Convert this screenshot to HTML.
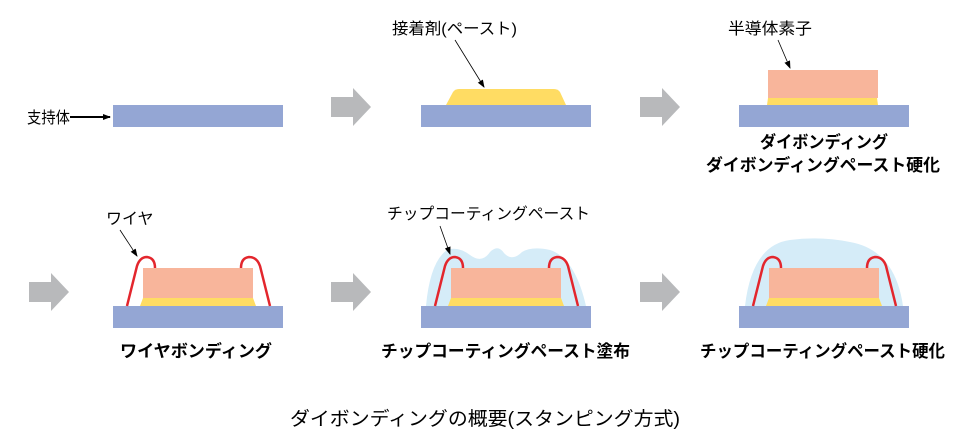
<!DOCTYPE html>
<html><head><meta charset="utf-8"><style>
body{margin:0;background:#fff;}
svg text{font-family:"Liberation Sans","Noto Sans CJK JP",sans-serif;}
</style></head><body>
<svg width="958" height="442" viewBox="0 0 958 442" xmlns="http://www.w3.org/2000/svg">
<defs>
<marker id="ah" markerWidth="8" markerHeight="8" refX="7" refY="4" orient="auto" markerUnits="userSpaceOnUse"><path d="M0,1 L8,4 L0,7 z" fill="#000"/></marker>
<g id="arr"><path d="M0,-10 H22 V-19 L40,0 L22,19 V10 H0 z" fill="#b8b9bb"/></g>
</defs>
<rect x="113" y="105" width="170" height="22" fill="#94a6d4"/>
<text x="27" y="123" font-size="16" textLength="43" lengthAdjust="spacingAndGlyphs">支持体</text>
<line x1="70" y1="117" x2="110" y2="117" stroke="#000" stroke-width="2" marker-end="url(#ah)"/>
<use href="#arr" x="331" y="107"/>
<rect x="421" y="105" width="170" height="22" fill="#94a6d4"/>
<path d="M446,105 L453,92 Q455,89 459,89 H554 Q558,89 560,92 L566,105 z" fill="#ffdc63"/>
<text x="392" y="34" font-size="16" textLength="125" lengthAdjust="spacingAndGlyphs">接着剤(ペースト)</text>
<line x1="455" y1="40" x2="484" y2="87" stroke="#000" stroke-width="0.8" marker-end="url(#ah)"/>
<use href="#arr" x="640" y="107"/>
<rect x="739" y="105" width="170" height="22" fill="#94a6d4"/>
<path d="M767,105 L768,98 H877 L878,105 z" fill="#ffdc63"/>
<rect x="768" y="70" width="110" height="28" fill="#f8b59b"/>
<text x="728" y="34" font-size="16" textLength="84" lengthAdjust="spacingAndGlyphs">半導体素子</text>
<line x1="778" y1="40" x2="790" y2="68" stroke="#000" stroke-width="0.8" marker-end="url(#ah)"/>
<text x="760" y="148" font-size="17" font-weight="bold" textLength="128" lengthAdjust="spacingAndGlyphs">ダイボンディング</text>
<text x="706" y="171" font-size="17" font-weight="bold" textLength="234" lengthAdjust="spacingAndGlyphs">ダイボンディングペースト硬化</text>
<use href="#arr" x="29" y="292"/>
<use href="#arr" x="331" y="292"/>
<use href="#arr" x="640" y="292"/>
<path d="M426,306 Q430,262 447,250 Q458,246 470,255 Q482,264 490,252 Q498,244 504,253 Q512,262 522,252 Q532,246 550,250 Q575,258 586,306 z" fill="#d5ecf8"/>
<path d="M745,306 Q752,245 790,240 Q820,236 850,242 Q895,250 903,306 z" fill="#d5ecf8"/>
<g id="chip">
<rect x="113" y="306" width="170" height="22" fill="#94a6d4"/>
<path d="M140,306 L143,298 H253 L256,306 z" fill="#ffdc63"/>
<rect x="143" y="268" width="110" height="30" fill="#f8b59b"/>
<path d="M127,306 L137,266 Q140,257 147,257 Q155,258 155,268" fill="none" stroke="#e3262d" stroke-width="2.5"/>
<path d="M270,306 L260,266 Q257,257 249,257 Q241,258 241,268" fill="none" stroke="#e3262d" stroke-width="2.5"/>
</g>
<use href="#chip" x="308"/>
<use href="#chip" x="626"/>
<text x="106" y="224" font-size="16">ワイヤ</text>
<line x1="120" y1="230" x2="137" y2="256" stroke="#000" stroke-width="0.8" marker-end="url(#ah)"/>
<text x="387" y="219" font-size="16" textLength="203" lengthAdjust="spacingAndGlyphs">チップコーティングペースト</text>
<line x1="440" y1="226" x2="450" y2="254" stroke="#000" stroke-width="0.8" marker-end="url(#ah)"/>
<text x="120" y="357" font-size="17" font-weight="bold" textLength="152" lengthAdjust="spacingAndGlyphs">ワイヤボンディング</text>
<text x="381" y="357" font-size="17" font-weight="bold" textLength="249" lengthAdjust="spacingAndGlyphs">チップコーティングペースト塗布</text>
<text x="700" y="357" font-size="17" font-weight="bold" textLength="245" lengthAdjust="spacingAndGlyphs">チップコーティングペースト硬化</text>
<text x="290" y="425" font-size="19" textLength="390" lengthAdjust="spacingAndGlyphs">ダイボンディングの概要(スタンピング方式)</text>
</svg>
</body></html>
